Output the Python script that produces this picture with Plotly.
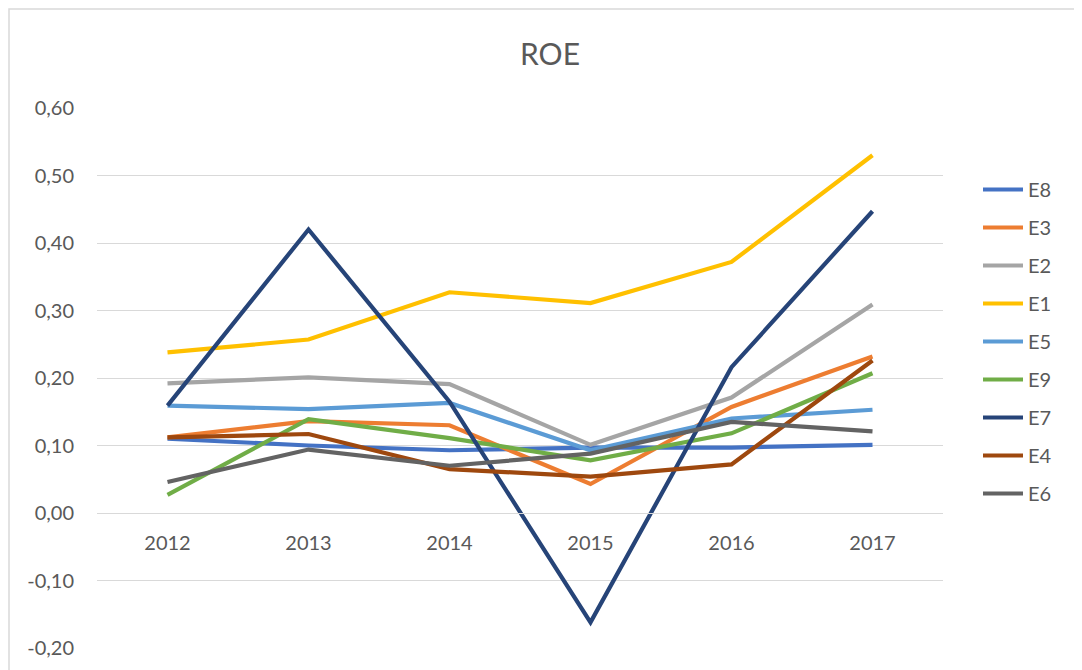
import plotly.graph_objects as go

years = ["2012", "2013", "2014", "2015", "2016", "2017"]

E8 = [0.110, 0.100, 0.093, 0.097, 0.097, 0.101]
E3 = [0.112, 0.136, 0.130, 0.043, 0.157, 0.232]
E2 = [0.192, 0.201, 0.191, 0.101, 0.171, 0.309]
E1 = [0.238, 0.257, 0.327, 0.311, 0.372, 0.530]
E5 = [0.159, 0.154, 0.163, 0.093, 0.140, 0.153]
E9 = [0.027, 0.139, 0.111, 0.078, 0.118, 0.207]
E7 = [0.159, 0.420, 0.165, -0.162, 0.216, 0.447]
E4 = [0.112, 0.117, 0.065, 0.054, 0.072, 0.226]
E6 = [0.046, 0.094, 0.070, 0.088, 0.135, 0.121]

series_names = ["E8", "E3", "E2", "E1", "E5", "E9", "E7", "E4", "E6"]
series_values = [E8, E3, E2, E1, E5, E9, E7, E4, E6]
series_colors = ["#4472C4", "#ED7D31", "#A5A5A5", "#FFC000", "#5B9BD5",
                 "#70AD47", "#264478", "#9E480E", "#636363"]

y_ticks = [-0.2, -0.1, 0.0, 0.1, 0.2, 0.3, 0.4, 0.5, 0.6]
y_tick_labels = ["-0,20", "-0,10", "0,00", "0,10", "0,20", "0,30", "0,40", "0,50", "0,60"]

FONT = "Lato, 'Open Sans', sans-serif"
TXT = "#595959"

fig = go.Figure()
for name, vals, col in zip(series_names, series_values, series_colors):
    fig.add_trace(go.Scatter(
        x=years, y=vals, name=name, mode="lines", legendgroup=name,
        line=dict(color=col, width=4.2, shape="linear"),
    ))

OFF = 8  # page body margin
W, H = 1082 - OFF, 670 - OFF
L, T = 97 - OFF, 108 - OFF
R = W - (943 - OFF)
B = H - (648 - OFF)
pw = W - L - R
ph = H - T - B

fig.update_layout(
    width=W, height=H,
    margin=dict(l=L, r=R, t=T, b=B, pad=0),
    paper_bgcolor="white", plot_bgcolor="white",
    separators=", ",
    font=dict(family=FONT, color=TXT, size=20),
    title=dict(text="ROE", x=(550 - OFF) / W, xref="container", xanchor="center",
               y=1 - (54 - OFF) / H, yref="container", yanchor="middle",
               font=dict(family=FONT, size=30, color=TXT)),
    showlegend=True,
    legend=dict(x=(978 - OFF) / W, xref="container", xanchor="left",
                y=1 - (170 - OFF) / H, yref="container", yanchor="top",
                font=dict(family=FONT, size=20, color=TXT),
                tracegroupgap=9, bgcolor="rgba(0,0,0,0)",
                itemwidth=40, maxheight=600),
    xaxis=dict(type="category", range=[-0.5, 5.5], anchor="free",
               position=0.25, showgrid=False, showline=True,
               linecolor="#D9D9D9", linewidth=1.3, ticks="",
               ticklabelstandoff=12, zeroline=False,
               tickfont=dict(family=FONT, size=20, color=TXT)),
    yaxis=dict(range=[-0.2, 0.6], tickvals=y_ticks, ticktext=y_tick_labels,
               showgrid=True, gridcolor="#D9D9D9", gridwidth=1.3,
               zeroline=False, showline=False, ticks="",
               ticklabelstandoff=22,
               tickfont=dict(family=FONT, size=20, color=TXT)),
)

# outer chart border (Excel chart area)
fig.add_shape(type="rect", xref="paper", yref="paper",
              x0=(1 - L) / pw, x1=(W + 10 - L) / pw,
              y0=(H - B - (H + 10)) / ph, y1=(H - B - (9 - OFF)) / ph,
              line=dict(color="#D9D9D9", width=1.5), fillcolor="rgba(0,0,0,0)",
              layer="below")

fig.write_html("out.html")
